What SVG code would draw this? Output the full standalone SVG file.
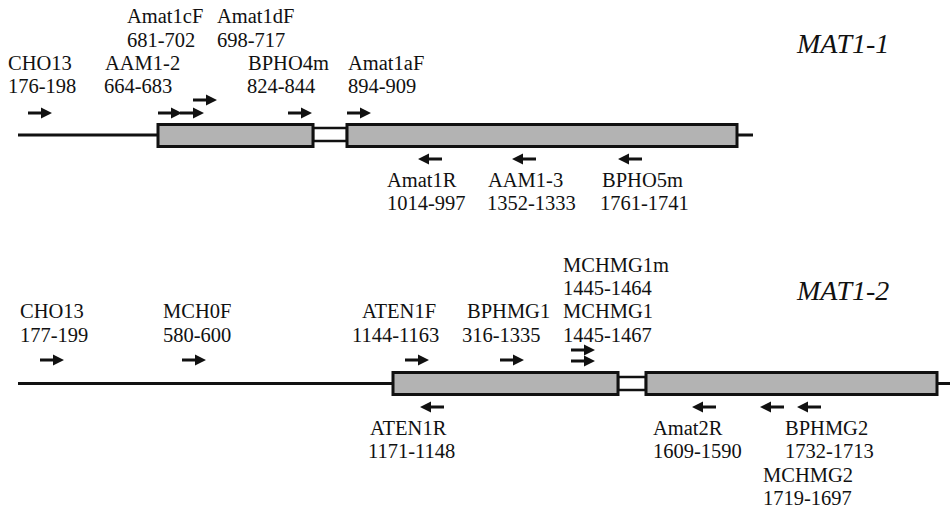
<svg xmlns="http://www.w3.org/2000/svg" width="950" height="512" viewBox="0 0 950 512">
<style>
text{font-family:'Liberation Serif','DejaVu Serif','Times New Roman',serif;font-size:20.5px;fill:#111}
.gn{font-style:italic;font-size:28px}
.ex{fill:#b3b3b3;stroke:#111;stroke-width:3}
.in{fill:#fff;stroke:#111;stroke-width:2.5}
.bb{stroke:#111;stroke-width:3;fill:none}
.ar{fill:#111}
</style>
<defs>
<path id="r" class="ar" d="M0,-1.4H13V-5.5L24,0L13,5.5V1.4H0Z"/>
<path id="l" class="ar" d="M24,-1.4H11V-5.5L0,0L11,5.5V1.4H24Z"/>
</defs>
<g id="connectors">
<line class="bb" x1="18" y1="135" x2="158" y2="135"/>
<line class="bb" x1="737" y1="135" x2="753" y2="135"/>
<line class="bb" x1="18" y1="383.5" x2="393" y2="383.5"/>
<line class="bb" x1="937" y1="383.5" x2="950" y2="383.5"/>
</g>
<g id="mat11-gene">
<rect class="in" x="313" y="128" width="34" height="13"/>
<rect class="ex" x="158" y="124.5" width="155" height="22"/>
<rect class="ex" x="347" y="124.5" width="390" height="22"/>
<text class="gn" x="797" y="53">MAT1-1</text>
</g>
<g id="mat12-gene">
<rect class="in" x="618" y="377" width="28" height="13"/>
<rect class="ex" x="393" y="372.5" width="225" height="22"/>
<rect class="ex" x="646" y="372.5" width="291" height="22"/>
<text class="gn" x="797" y="300">MAT1-2</text>
</g>
<g id="p-cho13a"><use href="#r" x="28" y="113"/><text x="8" y="70">CHO13</text><text x="8" y="93">176-198</text></g>
<g id="p-aam12"><use href="#r" x="158" y="113"/><text x="105" y="70">AAM1-2</text><text x="104" y="93">664-683</text></g>
<g id="p-amat1cf"><use href="#r" x="180" y="113"/><text x="127" y="23">Amat1cF</text><text x="127" y="47">681-702</text></g>
<g id="p-amat1df"><use href="#r" x="193" y="100"/><text x="217" y="23">Amat1dF</text><text x="217" y="47">698-717</text></g>
<g id="p-bpho4m"><use href="#r" x="288" y="113"/><text x="248" y="70">BPHO4m</text><text x="247" y="93">824-844</text></g>
<g id="p-amat1af"><use href="#r" x="347" y="113"/><text x="348" y="70">Amat1aF</text><text x="348" y="93">894-909</text></g>
<g id="p-amat1r"><use href="#l" x="418" y="159"/><text x="387" y="187">Amat1R</text><text x="387" y="210">1014-997</text></g>
<g id="p-aam13"><use href="#l" x="512" y="159"/><text x="488" y="187">AAM1-3</text><text x="487" y="210">1352-1333</text></g>
<g id="p-bpho5m"><use href="#l" x="618" y="159"/><text x="602" y="187">BPHO5m</text><text x="600" y="210">1761-1741</text></g>
<g id="p-cho13b"><use href="#r" x="40" y="360"/><text x="20" y="318">CHO13</text><text x="20" y="342">177-199</text></g>
<g id="p-mch0f"><use href="#r" x="182" y="360"/><text x="163" y="318">MCH0F</text><text x="163" y="342">580-600</text></g>
<g id="p-aten1f"><use href="#r" x="405" y="360"/><text x="362" y="318">ATEN1F</text><text x="352" y="342">1144-1163</text></g>
<g id="p-bphmg1"><use href="#r" x="500" y="360"/><text x="467" y="318">BPHMG1</text><text x="462" y="342">316-1335</text></g>
<g id="p-mchmg1m"><use href="#r" x="571" y="350"/><text x="563" y="272">MCHMG1m</text><text x="563" y="295">1445-1464</text></g>
<g id="p-mchmg1"><use href="#r" x="571" y="361"/><text x="563" y="318">MCHMG1</text><text x="563" y="342">1445-1467</text></g>
<g id="p-aten1r"><use href="#l" x="420" y="407"/><text x="370" y="435">ATEN1R</text><text x="368" y="458">1171-1148</text></g>
<g id="p-amat2r"><use href="#l" x="692" y="407"/><text x="653" y="435">Amat2R</text><text x="653" y="458">1609-1590</text></g>
<g id="p-mchmg2"><use href="#l" x="760" y="407"/><text x="763" y="482">MCHMG2</text><text x="763" y="505">1719-1697</text></g>
<g id="p-bphmg2"><use href="#l" x="797" y="407"/><text x="785" y="435">BPHMG2</text><text x="785" y="458">1732-1713</text></g>
</svg>
